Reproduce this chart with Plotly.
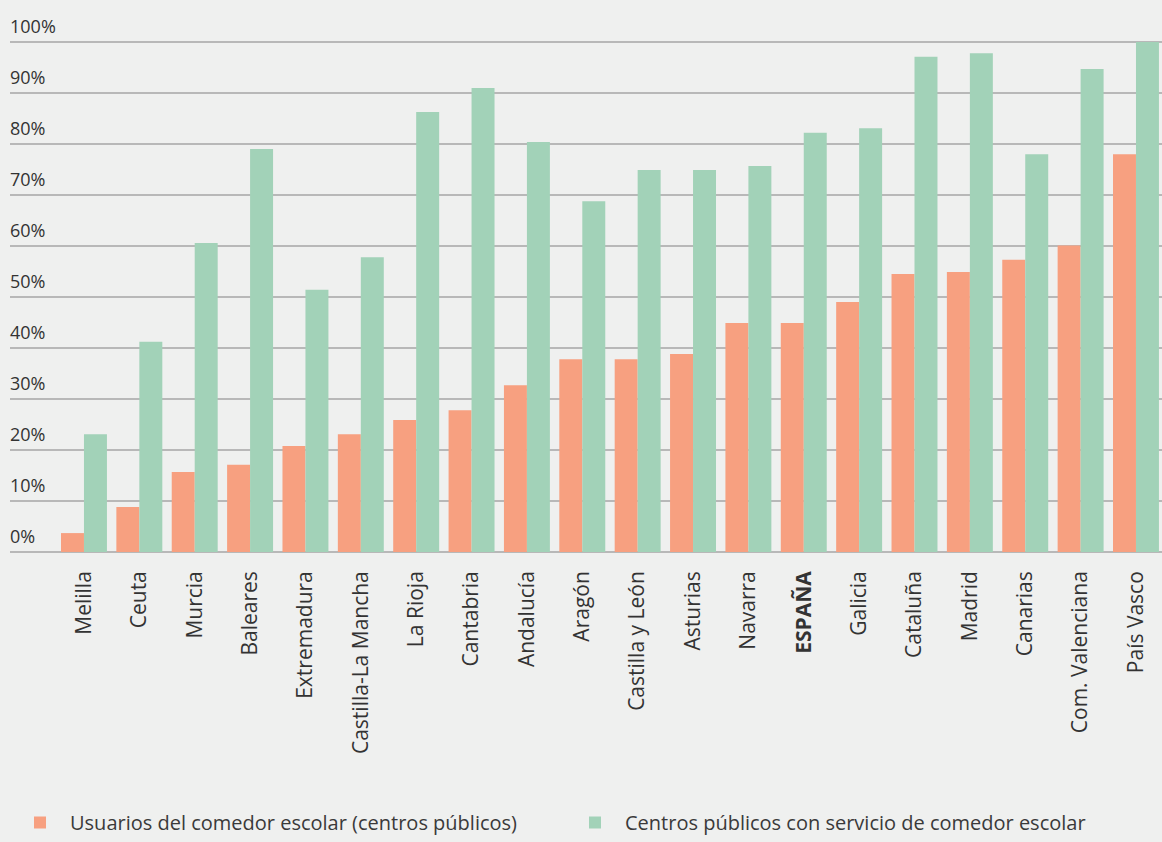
import plotly.graph_objects as go

categories = ["Melilla", "Ceuta", "Murcia", "Baleares", "Extremadura", "Castilla-La Mancha",
              "La Rioja", "Cantabria", "Andalucía", "Aragón", "Castilla y León", "Asturias",
              "Navarra", "ESPAÑA", "Galicia", "Cataluña", "Madrid", "Canarias",
              "Com. Valenciana", "País Vasco"]
usuarios = [3.7, 8.8, 15.7, 17.1, 20.8, 23.1, 25.9, 27.8, 32.7, 37.8, 37.8, 38.8,
            44.9, 44.9, 49.0, 54.5, 54.9, 57.3, 60.1, 78.0]
centros = [23.1, 41.2, 60.6, 79.0, 51.4, 57.8, 86.3, 91.0, 80.4, 68.8, 74.9, 74.9,
           75.7, 82.2, 83.1, 97.1, 97.8, 78.0, 94.7, 100.0]
tick_vals = [0, 10, 20, 30, 40, 50, 60, 70, 80, 90, 100]
tick_text = [f"{v}%" for v in tick_vals]
series_names = ["Usuarios del comedor escolar (centros públicos)",
                "Centros públicos con servicio de comedor escolar"]

cat_text = [f"<b>{c}</b>" if c == "ESPAÑA" else c for c in categories]
xidx = list(range(len(categories)))

fig = go.Figure()
fig.add_trace(go.Bar(x=xidx, y=usuarios, name=series_names[0], marker_color="#f7a080",
                     marker_line_width=0))
fig.add_trace(go.Bar(x=xidx, y=centros, name=series_names[1], marker_color="#a2d2b8",
                     marker_line_width=0))

font_fam = "Open Sans"
fig.update_layout(
    width=1162, height=842,
    margin=dict(l=10, r=0, t=40, b=288),
    paper_bgcolor="#eff0ef", plot_bgcolor="#eff0ef",
    barmode="group", bargap=0.17, bargroupgap=0,
    font=dict(family=font_fam, color="#333333", size=16),
    showlegend=True,
    legend=dict(orientation="h", x=10 / 1162, xref="container", y=0, yref="container",
                xanchor="left", yanchor="bottom",
                font=dict(size=20, color="#3a3a3a", family=font_fam),
                itemwidth=50, entrywidth=490, entrywidthmode="pixels",
                traceorder="normal", bgcolor="rgba(0,0,0,0)"),
    xaxis=dict(tickmode="array", tickvals=xidx, ticktext=cat_text, tickangle=-90,
               range=[-1.336, 19.47], showgrid=False, zeroline=False, showline=False,
               ticks="", tickfont=dict(size=21, color="#333333", family=font_fam),
               ticklabelstandoff=12),
    yaxis=dict(range=[-0.4, 100.4], tickmode="array", tickvals=tick_vals, ticktext=tick_text,
               showgrid=True, gridcolor="#b8b8b8", gridwidth=1.5, zeroline=False,
               showline=False, ticks="", ticklabelposition="inside",
               ticklabelshift=-15, ticklabelstandoff=-3, ticklabeloverflow="allow",
               tickfont=dict(size=18, color="#333333", family=font_fam)),
)

fig.write_html("out.html")
